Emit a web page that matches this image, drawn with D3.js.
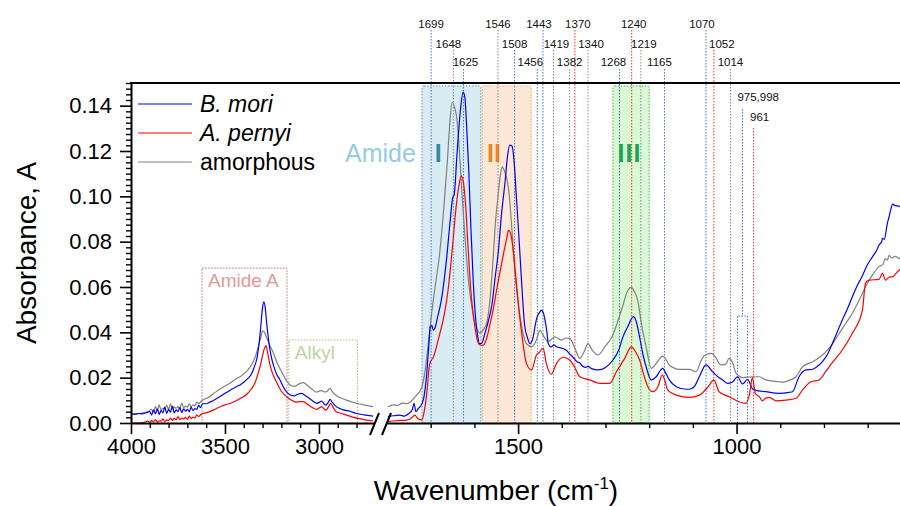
<!DOCTYPE html>
<html lang="en">
  <head>
    <meta charset="UTF-8" />
    <title>FTIR silk spectra</title>
    <script src="https://cdn.jsdelivr.net/npm/d3@7"></script>
    <style>
      body { margin: 0; background: #fff; }
      svg { display: block; font-family: "Liberation Sans", Arial, sans-serif; }
    </style>
  </head>
  <body>
    <div class="chart"></div>
    <script>
      // ---- spectra, [wavenumber, absorbance], high range (left of the break)
      const moriHigh = [
        [4000, 0.0040], [3980, 0.0038], [3960, 0.0042], [3940, 0.0040], [3920, 0.0045], [3900, 0.0050],
        [3890, 0.0035], [3880, 0.0058], [3870, 0.0040], [3860, 0.0062], [3850, 0.0038], [3840, 0.0055],
        [3830, 0.0045], [3820, 0.0070], [3810, 0.0042], [3800, 0.0060], [3790, 0.0048], [3780, 0.0075],
        [3770, 0.0045], [3760, 0.0058], [3750, 0.0050], [3740, 0.0068], [3730, 0.0046], [3720, 0.0062],
        [3710, 0.0052], [3700, 0.0060], [3690, 0.0050], [3680, 0.0070], [3670, 0.0055], [3660, 0.0064],
        [3650, 0.0060], [3640, 0.0078], [3630, 0.0068], [3620, 0.0085], [3600, 0.0085], [3580, 0.0092],
        [3550, 0.0105], [3520, 0.0120], [3500, 0.0131], [3470, 0.0146], [3440, 0.0160], [3420, 0.0168],
        [3400, 0.0180], [3380, 0.0195], [3360, 0.0215], [3345, 0.0245], [3330, 0.0285], [3320, 0.0340],
        [3310, 0.0420], [3300, 0.0510], [3293, 0.0535], [3286, 0.0510], [3278, 0.0440], [3270, 0.0380],
        [3260, 0.0320], [3250, 0.0280], [3240, 0.0250], [3225, 0.0215], [3207, 0.0190], [3190, 0.0160],
        [3170, 0.0135], [3154, 0.0125], [3130, 0.0120], [3110, 0.0128], [3092, 0.0131], [3075, 0.0122],
        [3050, 0.0108], [3030, 0.0095], [3012, 0.0087], [2995, 0.0093], [2986, 0.0097], [2970, 0.0082],
        [2963, 0.0079], [2950, 0.0092], [2941, 0.0104], [2930, 0.0092], [2915, 0.0078], [2900, 0.0068],
        [2870, 0.0058], [2835, 0.0052], [2800, 0.0042], [2760, 0.0036], [2712, 0.0030]
      ];
      const pernyiHigh = [
        [4000, 0.0000], [3960, 0.0000], [3930, 0.0003], [3910, 0.0008], [3900, 0.0002], [3890, 0.0012],
        [3880, 0.0005], [3870, 0.0015], [3860, 0.0004], [3850, 0.0010], [3840, 0.0008], [3830, 0.0018],
        [3820, 0.0006], [3810, 0.0014], [3800, 0.0010], [3790, 0.0022], [3780, 0.0012], [3770, 0.0020],
        [3760, 0.0014], [3750, 0.0028], [3740, 0.0015], [3730, 0.0022], [3720, 0.0018], [3710, 0.0025],
        [3700, 0.0016], [3690, 0.0030], [3680, 0.0020], [3670, 0.0026], [3660, 0.0022], [3650, 0.0036],
        [3640, 0.0028], [3630, 0.0035], [3620, 0.0042], [3600, 0.0045], [3580, 0.0050], [3550, 0.0062],
        [3520, 0.0074], [3500, 0.0080], [3473, 0.0086], [3440, 0.0098], [3410, 0.0112], [3380, 0.0130],
        [3360, 0.0150], [3340, 0.0178], [3325, 0.0215], [3310, 0.0260], [3298, 0.0305], [3290, 0.0330],
        [3282, 0.0341], [3275, 0.0320], [3265, 0.0275], [3255, 0.0240], [3240, 0.0205], [3225, 0.0180],
        [3200, 0.0140], [3172, 0.0116], [3154, 0.0105], [3120, 0.0092], [3100, 0.0094], [3083, 0.0094],
        [3060, 0.0082], [3035, 0.0068], [3012, 0.0060], [2995, 0.0068], [2986, 0.0072], [2970, 0.0060],
        [2963, 0.0057], [2950, 0.0070], [2938, 0.0087], [2925, 0.0070], [2909, 0.0050], [2880, 0.0042],
        [2853, 0.0035], [2820, 0.0026], [2780, 0.0018], [2740, 0.0012], [2712, 0.0010]
      ];
      const amorphHigh = [
        [4000, 0.0042], [3970, 0.0040], [3940, 0.0045], [3910, 0.0050], [3890, 0.0060], [3880, 0.0048],
        [3870, 0.0072], [3860, 0.0055], [3850, 0.0080], [3840, 0.0058], [3830, 0.0065], [3820, 0.0062],
        [3810, 0.0078], [3800, 0.0060], [3790, 0.0085], [3780, 0.0062], [3770, 0.0070], [3760, 0.0065],
        [3750, 0.0072], [3740, 0.0062], [3730, 0.0088], [3720, 0.0068], [3710, 0.0075], [3700, 0.0070],
        [3690, 0.0085], [3680, 0.0072], [3670, 0.0080], [3660, 0.0075], [3650, 0.0092], [3640, 0.0085],
        [3625, 0.0098], [3610, 0.0105], [3590, 0.0112], [3560, 0.0130], [3530, 0.0148], [3500, 0.0163],
        [3470, 0.0178], [3440, 0.0195], [3410, 0.0210], [3380, 0.0232], [3360, 0.0255], [3340, 0.0290],
        [3325, 0.0330], [3310, 0.0375], [3300, 0.0406], [3290, 0.0400], [3278, 0.0375], [3260, 0.0340],
        [3243, 0.0310], [3225, 0.0270], [3198, 0.0225], [3175, 0.0190], [3154, 0.0168], [3130, 0.0162],
        [3100, 0.0175], [3083, 0.0178], [3060, 0.0165], [3035, 0.0148], [3012, 0.0136], [2995, 0.0142],
        [2985, 0.0143], [2970, 0.0137], [2960, 0.0138], [2941, 0.0153], [2930, 0.0140], [2906, 0.0120],
        [2870, 0.0106], [2830, 0.0094], [2790, 0.0085], [2750, 0.0078], [2712, 0.0072]
      ];

      // ---- spectra, low range (right of the break)
      const moriLow = [
        [1798, 0.0028], [1785, 0.0032], [1771, 0.0035], [1760, 0.0030], [1750, 0.0042], [1742, 0.0060],
        [1738, 0.0087], [1734, 0.0050], [1728, 0.0065], [1724, 0.0072], [1716, 0.0110], [1709, 0.0219],
        [1704, 0.0350], [1701, 0.0425], [1697, 0.0430], [1694, 0.0410], [1690, 0.0420], [1685, 0.0460],
        [1675, 0.0550], [1665, 0.0700], [1655, 0.0900], [1650, 0.0990], [1646, 0.1010], [1640, 0.1180],
        [1632, 0.1380], [1626, 0.1460], [1622, 0.1440], [1618, 0.1320], [1613, 0.1120], [1608, 0.0860],
        [1603, 0.0640], [1598, 0.0480], [1593, 0.0390], [1588, 0.0350], [1583, 0.0352], [1576, 0.0395],
        [1568, 0.0450], [1560, 0.0520], [1552, 0.0650], [1545, 0.0760], [1538, 0.0920], [1530, 0.1060],
        [1524, 0.1180], [1519, 0.1226], [1514, 0.1222], [1509, 0.1150], [1504, 0.1000], [1500, 0.0880],
        [1495, 0.0720], [1490, 0.0560], [1485, 0.0430], [1479, 0.0380], [1473, 0.0350], [1466, 0.0375],
        [1460, 0.0440], [1456, 0.0470], [1450, 0.0490], [1447, 0.0498], [1442, 0.0485], [1439, 0.0460],
        [1434, 0.0400], [1431, 0.0350], [1424, 0.0336], [1418, 0.0345], [1412, 0.0336], [1400, 0.0330],
        [1390, 0.0322], [1382, 0.0305], [1374, 0.0290], [1365, 0.0270], [1359, 0.0265], [1352, 0.0250],
        [1345, 0.0245], [1340, 0.0250], [1332, 0.0240], [1317, 0.0234], [1300, 0.0245], [1283, 0.0278],
        [1270, 0.0320], [1260, 0.0380], [1249, 0.0425], [1236, 0.0469], [1230, 0.0450], [1222, 0.0380],
        [1214, 0.0300], [1207, 0.0248], [1195, 0.0190], [1184, 0.0204], [1169, 0.0241], [1162, 0.0220],
        [1154, 0.0190], [1138, 0.0160], [1120, 0.0150], [1108, 0.0149], [1097, 0.0160], [1085, 0.0205],
        [1070, 0.0256], [1055, 0.0226], [1040, 0.0200], [1032, 0.0190], [1021, 0.0175], [1010, 0.0180],
        [998, 0.0204], [986, 0.0172], [975, 0.0193], [963, 0.0150], [950, 0.0142], [933, 0.0138],
        [903, 0.0131], [880, 0.0135], [872, 0.0138], [857, 0.0204], [842, 0.0234], [826, 0.0237],
        [815, 0.0250], [804, 0.0270], [790, 0.0310], [781, 0.0350], [770, 0.0400], [758, 0.0454],
        [745, 0.0510], [735, 0.0557], [724, 0.0605], [712, 0.0650], [700, 0.0700], [689, 0.0733],
        [680, 0.0760], [674, 0.0785], [668, 0.0800], [666, 0.0815], [662, 0.0810], [655, 0.0880],
        [651, 0.0910], [646, 0.0950], [643, 0.0966], [638, 0.0960], [632, 0.0958], [620, 0.0950]
      ];
      const pernyiLow = [
        [1798, 0.0006], [1780, 0.0010], [1755, 0.0013], [1745, 0.0020], [1736, 0.0035], [1730, 0.0020],
        [1720, 0.0013], [1714, 0.0060], [1709, 0.0131], [1702, 0.0263], [1694, 0.0290], [1683, 0.0366],
        [1667, 0.0498], [1660, 0.0590], [1650, 0.0780], [1642, 0.0950], [1636, 0.1040], [1630, 0.1090],
        [1625, 0.1060], [1620, 0.0960], [1614, 0.0760], [1608, 0.0580], [1602, 0.0470], [1595, 0.0380],
        [1588, 0.0344], [1580, 0.0343], [1572, 0.0373], [1565, 0.0430], [1557, 0.0500], [1548, 0.0600],
        [1540, 0.0680], [1532, 0.0760], [1526, 0.0815], [1522, 0.0850], [1517, 0.0835], [1511, 0.0760],
        [1505, 0.0640], [1498, 0.0500], [1490, 0.0370], [1481, 0.0263], [1469, 0.0234], [1458, 0.0300],
        [1452, 0.0310], [1443, 0.0330], [1435, 0.0260], [1424, 0.0215], [1412, 0.0263], [1397, 0.0290],
        [1382, 0.0278], [1371, 0.0248], [1359, 0.0204], [1336, 0.0190], [1313, 0.0175], [1290, 0.0175],
        [1275, 0.0226], [1256, 0.0285], [1241, 0.0336], [1230, 0.0310], [1222, 0.0278], [1212, 0.0210],
        [1203, 0.0160], [1192, 0.0138], [1180, 0.0160], [1170, 0.0212], [1163, 0.0180], [1158, 0.0146],
        [1138, 0.0123], [1108, 0.0113], [1085, 0.0123], [1065, 0.0160], [1052, 0.0190], [1040, 0.0138],
        [1017, 0.0116], [995, 0.0094], [979, 0.0087], [970, 0.0131], [964, 0.0200], [957, 0.0130],
        [948, 0.0116], [941, 0.0098], [933, 0.0110], [925, 0.0113], [910, 0.0098], [887, 0.0101],
        [864, 0.0109], [849, 0.0146], [830, 0.0182], [811, 0.0190], [795, 0.0230], [781, 0.0266],
        [758, 0.0322], [735, 0.0396], [712, 0.0498], [705, 0.0616], [697, 0.0630], [674, 0.0634],
        [666, 0.0660], [659, 0.0630], [650, 0.0645], [643, 0.0645], [635, 0.0660], [628, 0.0675], [620, 0.0680]
      ];
      const amorphLow = [
        [1798, 0.0072], [1785, 0.0080], [1775, 0.0078], [1765, 0.0088], [1755, 0.0085], [1745, 0.0095],
        [1738, 0.0110], [1732, 0.0123], [1725, 0.0140], [1720, 0.0160], [1712, 0.0240], [1705, 0.0360],
        [1698, 0.0480], [1690, 0.0600], [1680, 0.0740], [1670, 0.0950], [1662, 0.1150], [1656, 0.1330],
        [1651, 0.1415], [1645, 0.1390], [1640, 0.1340], [1635, 0.1220], [1628, 0.1000], [1620, 0.0780],
        [1612, 0.0600], [1604, 0.0490], [1596, 0.0425], [1588, 0.0398], [1580, 0.0410], [1572, 0.0440],
        [1565, 0.0530], [1558, 0.0700], [1552, 0.0880], [1546, 0.1000], [1540, 0.1100], [1536, 0.1130],
        [1531, 0.1110], [1526, 0.1080], [1520, 0.1000], [1514, 0.0850], [1508, 0.0680], [1500, 0.0530],
        [1494, 0.0450], [1488, 0.0390], [1481, 0.0350], [1469, 0.0336], [1458, 0.0366], [1450, 0.0410],
        [1443, 0.0388], [1431, 0.0359], [1416, 0.0380], [1401, 0.0366], [1390, 0.0375], [1382, 0.0373],
        [1370, 0.0330], [1359, 0.0285], [1350, 0.0310], [1340, 0.0350], [1330, 0.0320], [1317, 0.0300],
        [1300, 0.0340], [1283, 0.0388], [1270, 0.0460], [1260, 0.0520], [1250, 0.0580], [1241, 0.0598],
        [1234, 0.0580], [1226, 0.0540], [1218, 0.0440], [1207, 0.0336], [1195, 0.0241], [1184, 0.0263],
        [1169, 0.0295], [1160, 0.0275], [1154, 0.0256], [1131, 0.0237], [1108, 0.0237], [1093, 0.0226],
        [1080, 0.0280], [1072, 0.0300], [1058, 0.0307], [1050, 0.0295], [1036, 0.0256], [1025, 0.0260],
        [1017, 0.0285], [1010, 0.0270], [1001, 0.0219], [985, 0.0200], [963, 0.0204], [948, 0.0204],
        [933, 0.0190], [903, 0.0182], [895, 0.0180], [880, 0.0188], [864, 0.0204], [849, 0.0248],
        [826, 0.0270], [810, 0.0290], [796, 0.0314], [780, 0.0350], [765, 0.0396], [750, 0.0440],
        [735, 0.0484], [720, 0.0540], [705, 0.0600], [690, 0.0650], [674, 0.0690], [665, 0.0700],
        [660, 0.0725], [655, 0.0718], [651, 0.0740], [645, 0.0728], [638, 0.0735], [628, 0.0726], [620, 0.0722]
      ];

      // ---- band assignments (peak positions, which sample they belong to)
      const markerWn = [1699, 1648, 1625, 1546, 1508, 1456, 1443, 1419, 1382, 1370, 1340, 1268, 1240, 1219, 1165, 1070, 1052, 1014];
      const markerSample = ["mori", "amorph", "mori", "amorph", "mori", "mori", "mori", "amorph", "amorph",
        "pernyi", "amorph", "mori", "pernyi", "amorph", "mori", "mori", "pernyi", "amorph"];
      const pairWn = [998, 975];   // "975,998" bracket
      const singleWn = 961;

      // ---- shaded regions
      const amideBands = [
        { name: "I", from: 1720, to: 1585 },
        { name: "II", from: 1582, to: 1470 },
        { name: "III", from: 1283, to: 1200 },
      ];
      const highBands = [
        { name: "Amide A", from: 3622, to: 3170, top: 0.0683 },
        { name: "Alkyl", from: 3160, to: 2795, top: 0.0366 },
      ];

      const yTicks = [0, 0.02, 0.04, 0.06, 0.08, 0.1, 0.12, 0.14];
      const xTicksHigh = [4000, 3500, 3000];
      const xTicksLow = [1500, 1000];

      // ---- layout
      const width = 900, height = 506;
      const plotTop = 83, plotBottom = 423, plotLeft = 131;

      const colors = { mori: "#0000ff", pernyi: "#ff0000", amorph: "#808080" };
      const markerColors = { mori: "#3b7bd4", pernyi: "#ff2b2b", amorph: "#8c8c8c" };

      const svg = d3.select(".chart").append("svg")
        .attr("width", width).attr("height", height)
        .attr("viewBox", [0, 0, width, height]);

      const y = d3.scaleLinear().domain([0, 0.15]).range([plotBottom, plotTop]);
      const xHigh = d3.scaleLinear().domain([4000, 2707]).range([plotLeft, 374]);
      const xLow = d3.scaleLinear().domain([1800, 626]).range([387, 900]);

      // amide I/II/III boxes
      const bandStyle = {
        I: { fill: "#d9ecf3", stroke: "#4d97c4" },
        II: { fill: "#fde8d8", stroke: "#f0a050" },
        III: { fill: "#d9f8d3", stroke: "#2fc04a" },
      };
      svg.append("g").selectAll("rect").data(amideBands).join("rect")
        .attr("x", d => xLow(d.from))
        .attr("y", plotTop + 3)
        .attr("width", d => xLow(d.to) - xLow(d.from))
        .attr("height", plotBottom - plotTop - 3)
        .attr("rx", 2)
        .attr("fill", d => bandStyle[d.name].fill)
        .attr("stroke", d => bandStyle[d.name].stroke)
        .attr("stroke-width", 1)
        .attr("stroke-dasharray", "1.5,1.5");

      // peak marker lines
      const rowBase = [30, 50, 69];
      const rowText = [28, 48, 66];
      const labelShift = { 1648: -5, 1625: 2, 1456: -7, 1443: -4, 1419: 3, 1370: 3, 1340: 3,
        1268: -6, 1240: 2, 1219: 3, 1165: -5, 1070: -4, 1052: 8 };

      const markers = markerWn.map((wn, i) => ({ wn, sample: markerSample[i], row: i % 3 }));
      const mg = svg.append("g");
      mg.selectAll("line").data(markers).join("line")
        .attr("x1", d => xLow(d.wn)).attr("x2", d => xLow(d.wn))
        .attr("y1", d => rowBase[d.row]).attr("y2", plotBottom)
        .attr("stroke", d => markerColors[d.sample])
        .attr("stroke-width", 1)
        .attr("stroke-dasharray", "1.5,1.5");
      mg.selectAll("text").data(markers).join("text")
        .attr("x", d => xLow(d.wn) + (labelShift[d.wn] || 0))
        .attr("y", d => rowText[d.row])
        .attr("text-anchor", "middle")
        .style("font-size", "11.5px")
        .attr("fill", "#111")
        .text(d => d.wn);

      // 975,998 bracket
      const bx0 = xLow(pairWn[0]), bx1 = xLow(pairWn[1]), bTop = y(0.0472);
      mg.append("path")
        .attr("d", `M${(bx0 + bx1) / 2},109 V${bTop} M${bx0},${plotBottom} V${bTop} H${bx1} V${plotBottom}`)
        .attr("fill", "none")
        .attr("stroke", markerColors.mori)
        .attr("stroke-width", 1)
        .attr("stroke-dasharray", "1.5,1.5");
      mg.append("text")
        .attr("x", bx0).attr("y", 101)
        .style("font-size", "11.5px").attr("fill", "#111")
        .text(pairWn.slice().reverse().join(","));
      mg.append("line")
        .attr("x1", xLow(singleWn)).attr("x2", xLow(singleWn))
        .attr("y1", 128).attr("y2", plotBottom)
        .attr("stroke", markerColors.pernyi)
        .attr("stroke-width", 1)
        .attr("stroke-dasharray", "1.5,1.5");
      mg.append("text")
        .attr("x", xLow(singleWn) + 6).attr("y", 121)
        .attr("text-anchor", "middle")
        .style("font-size", "11.5px").attr("fill", "#111")
        .text(singleWn);

      // amide A / alkyl boxes
      const hbStyle = { "Amide A": { stroke: "#c86a6a", text: "#e29a98" }, Alkyl: { stroke: "#a9bb7a", text: "#bdd59a" } };
      const hb = svg.append("g");
      hb.selectAll("rect").data(highBands).join("rect")
        .attr("x", d => xHigh(d.from))
        .attr("y", d => y(d.top))
        .attr("width", d => xHigh(d.to) - xHigh(d.from))
        .attr("height", d => plotBottom - y(d.top))
        .attr("fill", "none")
        .attr("stroke", d => hbStyle[d.name].stroke)
        .attr("stroke-width", 1)
        .attr("stroke-dasharray", "1.5,1.5");
      hb.selectAll("text").data(highBands).join("text")
        .attr("x", d => xHigh(d.from) + 6)
        .attr("y", d => y(d.top) + 19)
        .style("font-size", "19px")
        .attr("fill", d => hbStyle[d.name].text)
        .text(d => d.name);

      // spectra
      const lineHigh = d3.line().x(d => xHigh(d[0])).y(d => y(d[1])).curve(d3.curveMonotoneX);
      const lineLow = d3.line().x(d => xLow(d[0])).y(d => y(d[1])).curve(d3.curveMonotoneX);
      const series = [
        { key: "amorph", high: amorphHigh, low: amorphLow },
        { key: "mori", high: moriHigh, low: moriLow },
        { key: "pernyi", high: pernyiHigh, low: pernyiLow },
      ];
      const sg = svg.append("g").attr("fill", "none").attr("stroke-width", 1.2).attr("stroke-linejoin", "round");
      series.forEach(s => {
        sg.append("path").attr("d", lineHigh(s.high)).attr("stroke", colors[s.key]);
        sg.append("path").attr("d", lineLow(s.low)).attr("stroke", colors[s.key]);
      });

      // amide labels
      const al = svg.append("g").style("font-size", "25px");
      al.append("text").attr("x", 345).attr("y", 162).attr("fill", "#93cde0").text("Amide");
      al.append("text").attr("x", xLow(1683)).attr("y", 162).attr("text-anchor", "middle")
        .attr("fill", "#2e8aa2").style("font-weight", "bold").text("I");
      al.append("text").attr("x", xLow(1555)).attr("y", 162).attr("text-anchor", "middle")
        .attr("fill", "#e8832a").style("font-weight", "bold").text("II");
      al.append("text").attr("x", xLow(1245)).attr("y", 162).attr("text-anchor", "middle")
        .attr("fill", "#1aa552").style("font-weight", "bold").attr("letter-spacing", 1).text("III");

      // axes
      const styleAxis = (g) => {
        g.selectAll(".domain").attr("stroke-width", 2);
        g.selectAll(".tick line").attr("stroke-width", 1.6);
        g.selectAll(".tick text").style("font-size", "22px").attr("fill", "#000")
          .style("font-family", '"Liberation Sans", Arial, sans-serif');
      };

      const yMinor = d3.range(0, 0.1501, 0.0025).filter(v => Math.abs(v / 0.02 - Math.round(v / 0.02)) > 1e-6);
      svg.append("g").attr("transform", `translate(${plotLeft},0)`)
        .call(d3.axisLeft(y).tickValues(yMinor).tickSize(5).tickFormat(""))
        .call(g => g.select(".domain").remove())
        .call(g => g.selectAll(".tick line").attr("stroke-width", 1.4));
      svg.append("g").attr("transform", `translate(${plotLeft},0)`)
        .call(d3.axisLeft(y).tickValues(yTicks).tickSize(11).tickSizeOuter(0).tickPadding(8).tickFormat(d3.format(".2f")))
        .call(styleAxis);

      const minorHigh = d3.range(3900, 2750, -100).filter(v => !xTicksHigh.includes(v));
      const minorLow = d3.range(1700, 650, -100).filter(v => !xTicksLow.includes(v));
      [[xHigh, xTicksHigh, minorHigh], [xLow, xTicksLow, minorLow]].forEach(([sc, major, minor]) => {
        svg.append("g").attr("transform", `translate(0,${plotBottom})`)
          .call(d3.axisBottom(sc).tickValues(minor).tickSize(5).tickFormat(""))
          .call(g => g.select(".domain").remove())
          .call(g => g.selectAll(".tick line").attr("stroke-width", 1.4));
        svg.append("g").attr("transform", `translate(0,${plotBottom})`)
          .call(d3.axisBottom(sc).tickValues(major).tickSize(11).tickSizeOuter(0).tickPadding(4).tickFormat(d3.format("d")))
          .call(styleAxis);
      });

      // top frame line
      svg.append("line")
        .attr("x1", plotLeft - 1).attr("x2", width)
        .attr("y1", plotTop).attr("y2", plotTop)
        .attr("stroke", "#000").attr("stroke-width", 2);

      // axis break marks
      svg.append("g").attr("stroke", "#000").attr("stroke-width", 2)
        .selectAll("line").data([370, 382]).join("line")
        .attr("x1", d => d).attr("y1", 435)
        .attr("x2", d => d + 9).attr("y2", 413);

      // legend
      const legend = [
        { key: "mori", label: "B. mori", italic: true },
        { key: "pernyi", label: "A. pernyi", italic: true },
        { key: "amorph", label: "amorphous", italic: false },
      ];
      const lg = svg.append("g").selectAll("g").data(legend).join("g")
        .attr("transform", (d, i) => `translate(138,${104 + i * 29})`);
      lg.append("line").attr("x1", 0).attr("x2", 54)
        .attr("stroke", d => colors[d.key]).attr("stroke-width", 1.2);
      lg.append("text").attr("x", 62).attr("y", 8)
        .style("font-size", "23px")
        .style("font-style", d => d.italic ? "italic" : "normal")
        .text(d => d.label);

      // axis titles
      svg.append("text")
        .attr("transform", "translate(36,253) rotate(-90)")
        .attr("text-anchor", "middle")
        .style("font-size", "28px")
        .text("Absorbance, A");
      const xt = svg.append("text")
        .attr("x", 496).attr("y", 500)
        .attr("text-anchor", "middle")
        .style("font-size", "28px");
      xt.append("tspan").text("Wavenumber (cm");
      xt.append("tspan").attr("dy", -11).style("font-size", "17px").text("-1");
      xt.append("tspan").attr("dy", 11).text(")");
    </script>
  </body>
</html>
